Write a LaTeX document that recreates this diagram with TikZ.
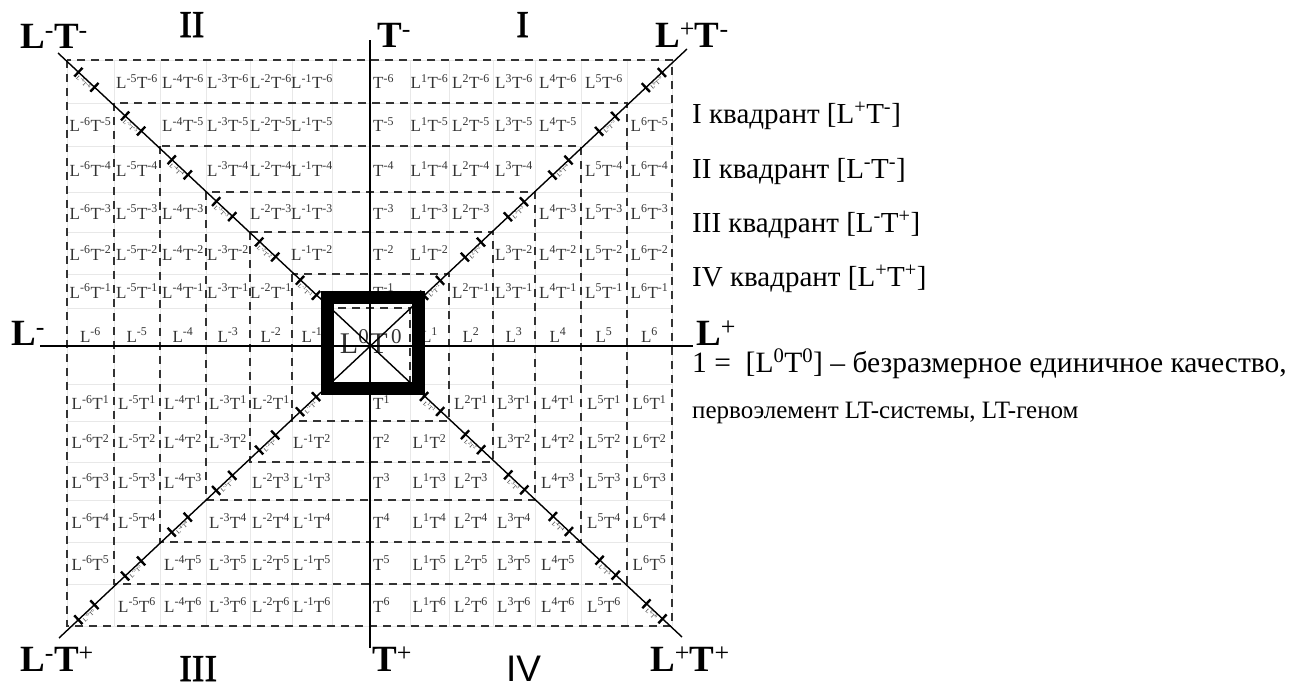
\documentclass[tikz,border=0pt]{standalone}
\usepackage{fontspec}
\setmainfont{Liberation Serif}
\newfontfamily\sansf{Liberation Sans}
\newfontfamily\heavyserif[FakeBold=1.6]{Liberation Serif}
\usetikzlibrary{calc}

% L^a T^b with text superscripts
\newcommand\cellLT[2]{L\textsuperscript{#1}T\textsuperscript{#2}}

\begin{document}
\begin{tikzpicture}[x=1pt,y=-1pt,
  faint/.style={draw=black!9, line width=0.6pt},
  dashgrid/.style={draw=black!80, line width=1.8pt, dash pattern=on 8pt off 6pt},
  axisline/.style={line width=1.6pt},
  diagline/.style={line width=1.4pt},
  tickmark/.style={line width=2.4pt},
  cell/.style={font=\fontsize{17}{17}\selectfont, text=black!80, inner sep=0pt},
  axislabel/.style={font=\fontsize{37}{37}\selectfont, inner sep=0pt, anchor=base west},
  quadnum/.style={font=\heavyserif\fontsize{38}{38}\selectfont, inner sep=0pt, anchor=base west},
  legend/.style={font=\fontsize{29}{29}\selectfont, inner sep=0pt, anchor=base west},
  difflabel/.style={font=\fontsize{6}{6}\selectfont, text=black!85, inner sep=0.5pt},
  unitbox/.style={draw, line width=13pt, minimum size=91pt, inner sep=0pt}
]
\useasboundingbox (0,0) rectangle (1314,688);

% column and row boundaries of the table
\def\colb{{67,114,160,206,250,292,332,410,449,493,535,581,627,672}}
\def\rowb{{60,103,146,192,232,274,308,384,421,462,500,542,584,626}}

% faint table grid
\foreach \n in {0,...,13}{
  \pgfmathsetmacro\xx{\colb[\n]}
  \pgfmathsetmacro\yy{\rowb[\n]}
  \draw[faint] (\xx,60) -- (\xx,626);
  \draw[faint] (67,\yy) -- (672,\yy);
}

% cell labels L^i T^j off the diagonals
\foreach \i in {-6,...,6}{
  \foreach \j in {-6,...,6}{
    \pgfmathtruncatemacro\ai{abs(\i)}
    \pgfmathtruncatemacro\aj{abs(\j)}
    \pgfmathtruncatemacro\ia{\i+6}
    \pgfmathtruncatemacro\ib{\i+7}
    \pgfmathtruncatemacro\ja{\j+6}
    \pgfmathtruncatemacro\jb{\j+7}
    \pgfmathsetmacro\xa{\colb[\ia]}
    \pgfmathsetmacro\xb{\colb[\ib]}
    \pgfmathsetmacro\ya{\rowb[\ja]}
    \pgfmathsetmacro\yb{\rowb[\jb]}
    \pgfmathsetmacro\cx{(\xa+\xb)/2}
    \pgfmathsetmacro\cy{(\ya+\yb)/2}
    \ifnum\ai=0
      \ifnum\aj=0\else
        \node[cell, anchor=west] (cell\i_\j) at (373,\cy) {T\textsuperscript{\j}};
      \fi
    \else
      \ifnum\aj=0
        \node[cell, anchor=base] (cell\i_\j) at (\cx,342) {L\textsuperscript{\i}};
      \else
        \ifnum\ai=\aj\else
          \node[cell] (cell\i_\j) at (\cx,\cy) {\cellLT{\i}{\j}};
        \fi
      \fi
    \fi
  }
}

% concentric dashed frames
\foreach \k in {0,...,6}{
  \pgfmathtruncatemacro\kk{13-\k}
  \pgfmathsetmacro\xa{\colb[\k]}
  \pgfmathsetmacro\xb{\colb[\kk]}
  \pgfmathsetmacro\ya{\rowb[\k]}
  \pgfmathsetmacro\yb{\rowb[\kk]}
  \draw[dashgrid] (\xa,\ya) rectangle (\xb,\yb);
}

% axes and diagonals
\coordinate (O) at (370,346);
\coordinate (Lm) at (40,346);
\coordinate (Lp) at (693,346);
\coordinate (Tm) at (370,40);
\coordinate (Tp) at (370,648);
\coordinate (NW) at (58,53);
\coordinate (SE) at (682,637);
\coordinate (NE) at (687,49);
\coordinate (SW) at (59,638);

% unit square with its symbol
\node[unitbox] (unit) at (373,343) {};
\node[font=\fontsize{30}{30}\selectfont, text=black!80, inner sep=0pt, anchor=base] (unitlabel) at (371,353) {L\textsuperscript{0}T\textsuperscript{\,0}};

\draw[axisline] (Lm) -- (Lp);
\draw[axisline] (Tm) -- (Tp);
\draw[diagline] (NW) -- (SE);
\draw[diagline] (SW) -- (NE);

% graduation of the diagonals
\foreach \corner/\ang/\sx/\sy in {NW/-43/-1/-1, NE/43/1/-1, SW/43/-1/1, SE/-43/1/1}{
  \foreach \d [count=\k] in {85,141,200,261,325,389}{
    \pgfmathsetmacro\da{\d-11}
    \pgfmathsetmacro\db{\d+11}
    \pgfmathtruncatemacro\ii{\sx*\k}
    \pgfmathtruncatemacro\jj{\sy*\k}
    \coordinate (ta) at ($(O)!\da pt!(\corner)$);
    \coordinate (tb) at ($(O)!\db pt!(\corner)$);
    \coordinate (tm) at ($(O)!\d pt!(\corner)$);
    \draw[tickmark] ($(ta)!6pt!90:(\corner)$) -- ($(ta)!6pt!-90:(\corner)$);
    \draw[tickmark] ($(tb)!6pt!90:(\corner)$) -- ($(tb)!6pt!-90:(\corner)$);
    \node[difflabel, rotate=\ang, anchor=north] (d\corner\k) at (tm) {\cellLT{\ii}{\jj}};
  }
}

% axis ends
\node[axislabel] (lt-mm) at (20,48) {\textbf{L}\textsuperscript{-}\textbf{T}\textsuperscript{-}};
\node[axislabel] (t-m) at (377,47) {\textbf{T}\textsuperscript{-}};
\node[axislabel] (lt-pm) at (655,47) {\textbf{L}\textsuperscript{+}\textbf{T}\textsuperscript{-}};
\node[axislabel] (l-m) at (11,345) {\textbf{L}\textsuperscript{-}};
\node[axislabel] (l-p) at (696,345) {\textbf{L}\textsuperscript{+}};
\node[axislabel] (lt-mp) at (20,671) {\textbf{L}\textsuperscript{-}\textbf{T}\textsuperscript{+}};
\node[axislabel] (t-p) at (372,671) {\textbf{T}\textsuperscript{+}};
\node[axislabel] (lt-pp) at (650,671) {\textbf{L}\textsuperscript{+}\textbf{T}\textsuperscript{+}};

% quadrant numbers
\node[quadnum] (q2) at (179,37) {II};
\node[quadnum] (q1) at (516,37) {I};
\node[quadnum] (q3) at (179,681) {III};
\node[quadnum, font=\sansf\fontsize{37}{37}\selectfont] (q4) at (506,681) {IV};

% legend
\node[legend] (leg1) at (692,123) {I квадрант [L\textsuperscript{+}T\textsuperscript{-}]};
\node[legend] (leg2) at (692,178) {II квадрант [L\textsuperscript{-}T\textsuperscript{-}]};
\node[legend] (leg3) at (692,232) {III квадрант [L\textsuperscript{-}T\textsuperscript{+}]};
\node[legend] (leg4) at (692,286) {IV квадрант [L\textsuperscript{+}T\textsuperscript{+}]};
\node[legend, font=\fontsize{29.5}{29.5}\selectfont] (leg5) at (692,372) {1 =\ \ [L\textsuperscript{0}T\textsuperscript{0}] – безразмерное единичное качество,};
\node[legend, font=\fontsize{25}{25}\selectfont] (leg6) at (692,418) {первоэлемент LT-системы, LT-геном};
\end{tikzpicture}
\end{document}
